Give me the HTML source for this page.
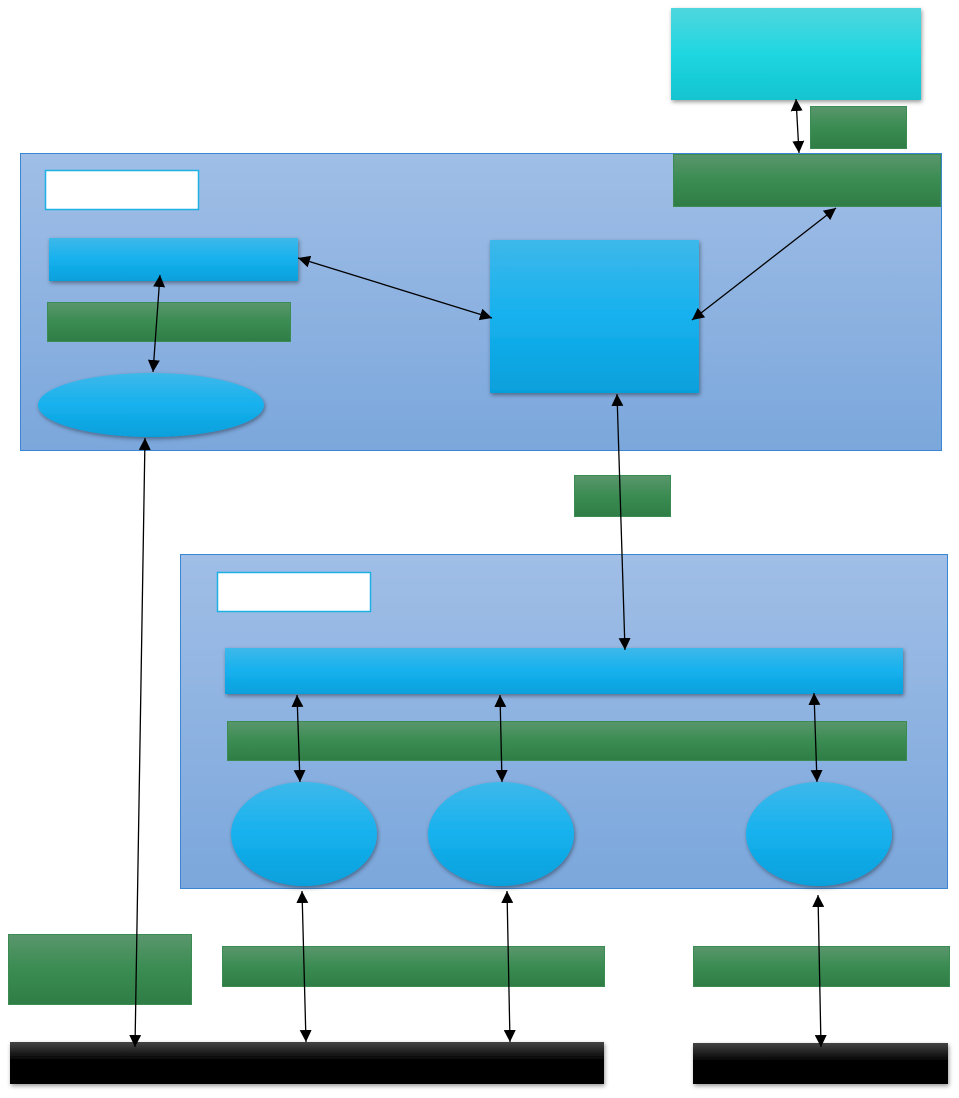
<!DOCTYPE html>
<html><head><meta charset="utf-8"><style>html,body{margin:0;padding:0;background:#fff}svg{display:block}</style></head>
<body>
<svg width="959" height="1098" viewBox="0 0 959 1098" xmlns="http://www.w3.org/2000/svg">
<defs>
<linearGradient id="cont" x1="0" y1="0" x2="0" y2="1"><stop offset="0" stop-color="#a0bee6"/><stop offset="1" stop-color="#7ba7dc"/></linearGradient>
<linearGradient id="blue" x1="0" y1="0" x2="0" y2="1"><stop offset="0" stop-color="#3db8ea"/><stop offset="0.5" stop-color="#16b1ee"/><stop offset="1" stop-color="#06a0dc"/></linearGradient>
<linearGradient id="green" x1="0" y1="0" x2="0" y2="1"><stop offset="0" stop-color="#5a966c"/><stop offset="0.5" stop-color="#3a8c52"/><stop offset="1" stop-color="#2f7d46"/></linearGradient>
<linearGradient id="cyan" x1="0" y1="0" x2="0" y2="1"><stop offset="0" stop-color="#4fd6de"/><stop offset="0.5" stop-color="#1fd6e0"/><stop offset="1" stop-color="#12c4d0"/></linearGradient>
<linearGradient id="black" x1="0" y1="0" x2="0" y2="1"><stop offset="0" stop-color="#444"/><stop offset="0.45" stop-color="#000"/><stop offset="1" stop-color="#000"/></linearGradient>
<filter id="sh" x="-10%" y="-10%" width="120%" height="130%"><feDropShadow dx="1" dy="2" stdDeviation="2" flood-color="#000" flood-opacity="0.4"/></filter>
<marker id="ah" viewBox="0 0 10 10" refX="10" refY="5" markerWidth="12" markerHeight="12" markerUnits="userSpaceOnUse" orient="auto-start-reverse"><path d="M0,0 L10,5 L0,10 z" fill="#000"/></marker>
</defs>

<!-- containers -->
<rect x="20.5" y="153.5" width="921" height="297" fill="url(#cont)" stroke="#3a86d0" stroke-width="1"/>
<rect x="180.5" y="554.5" width="767" height="334" fill="url(#cont)" stroke="#3a86d0" stroke-width="1"/>

<!-- top-right -->
<rect x="671" y="8" width="250" height="92" fill="url(#cyan)" filter="url(#sh)"/>
<rect x="810.5" y="106.5" width="96" height="42" fill="url(#green)" stroke="#3a8c52"/>
<rect x="673.5" y="154.5" width="267" height="52" fill="url(#green)" stroke="#3a8c52"/>

<!-- top container contents -->
<rect x="45.5" y="170.5" width="153" height="39" fill="#fff" stroke="#1fb0e6" stroke-width="1.5"/>
<rect x="49" y="238" width="249" height="43" fill="url(#blue)" filter="url(#sh)"/>
<rect x="47.5" y="302.5" width="243" height="39" fill="url(#green)" stroke="#3a8c52"/>
<ellipse cx="151" cy="405" rx="113" ry="32" fill="url(#blue)" filter="url(#sh)"/>
<rect x="490" y="240" width="209" height="153" fill="url(#blue)" filter="url(#sh)"/>

<rect x="574.5" y="475.5" width="96" height="41" fill="url(#green)" stroke="#3a8c52"/>

<!-- bottom container contents -->
<rect x="217.5" y="572.5" width="153" height="39" fill="#fff" stroke="#1fb0e6" stroke-width="1.5"/>
<rect x="225" y="648" width="678" height="46" fill="url(#blue)" filter="url(#sh)"/>
<rect x="227.5" y="721.5" width="679" height="39" fill="url(#green)" stroke="#3a8c52"/>
<ellipse cx="304" cy="834" rx="73" ry="52" fill="url(#blue)" filter="url(#sh)"/>
<ellipse cx="501" cy="834" rx="73" ry="52" fill="url(#blue)" filter="url(#sh)"/>
<ellipse cx="819" cy="834" rx="73" ry="52" fill="url(#blue)" filter="url(#sh)"/>

<!-- bottom -->
<rect x="8.5" y="934.5" width="183" height="70" fill="url(#green)" stroke="#3a8c52"/>
<rect x="222.5" y="946.5" width="382" height="40" fill="url(#green)" stroke="#3a8c52"/>
<rect x="693.5" y="946.5" width="256" height="40" fill="url(#green)" stroke="#3a8c52"/>
<rect x="10" y="1042" width="594" height="42" fill="url(#black)" filter="url(#sh)"/>
<rect x="693" y="1043" width="255" height="41" fill="url(#black)" filter="url(#sh)"/>

<!-- arrows -->
<g stroke="#000" stroke-width="1.3" fill="none" marker-start="url(#ah)" marker-end="url(#ah)">
<line x1="796" y1="99" x2="799" y2="153"/>
<line x1="298" y1="258" x2="492" y2="318"/>
<line x1="692" y1="320" x2="836" y2="208"/>
<line x1="160" y1="275" x2="153" y2="372"/>
<line x1="145" y1="438" x2="135" y2="1047"/>
<line x1="617" y1="394" x2="625" y2="650"/>
<line x1="297" y1="695" x2="300" y2="782"/>
<line x1="500" y1="695" x2="502" y2="782"/>
<line x1="814" y1="693" x2="817" y2="782"/>
<line x1="302" y1="891" x2="306" y2="1042"/>
<line x1="507" y1="891" x2="510" y2="1042"/>
<line x1="818" y1="895" x2="821" y2="1047"/>
</g>
</svg>
</body></html>
